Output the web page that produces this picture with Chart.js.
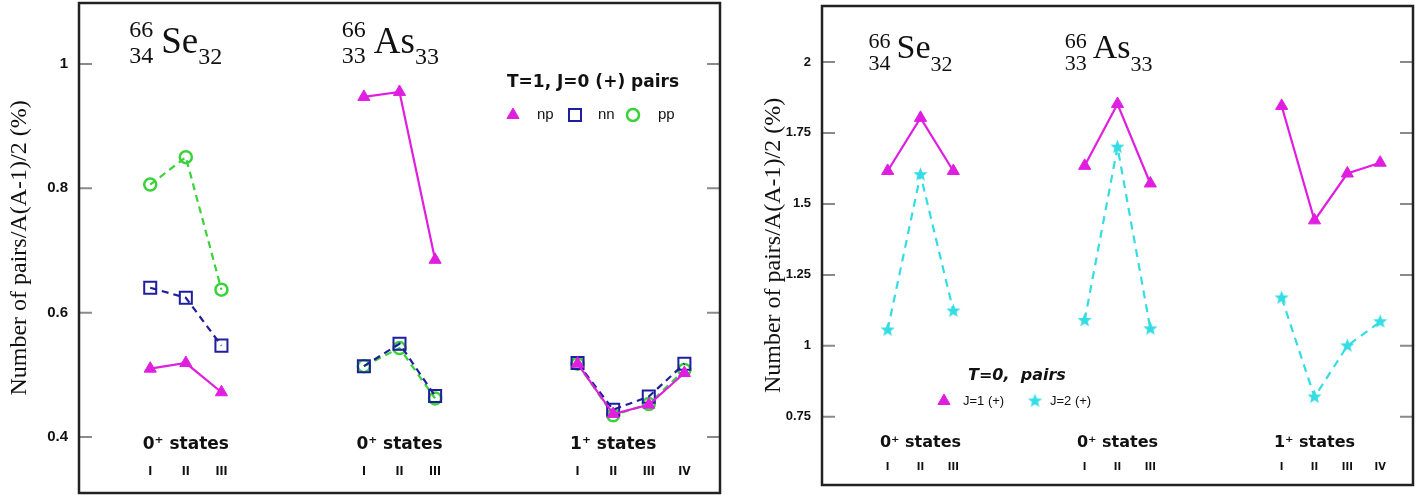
<!DOCTYPE html>
<html>
<head>
<meta charset="utf-8">
<script src="https://cdn.jsdelivr.net/npm/chart.js@4.4.0/dist/chart.umd.min.js"></script>
<style>
    body { margin: 0; background: #fff; width: 1428px; height: 495px; overflow: hidden; position: relative; }
    .panel { position: absolute; top: 0; height: 495px; }
    #leftPanel { left: 0; width: 745px; }
    #rightPanel { left: 745px; width: 683px; }
</style>
</head>
<body>
<div class="panel" id="leftPanel"><canvas id="t1Chart"></canvas></div>
<div class="panel" id="rightPanel"><canvas id="t0Chart"></canvas></div>
<script>
    // x positions of the states: 66Se 0+ | 66As 0+ | 66As 1+
    const xSe0 = [1, 2, 3];
    const xAs0 = [7, 8, 9];
    const xAs1 = [13, 14, 15, 16];
    const gapX = [5, 11];
    const roman3 = ['I', 'II', 'III'];
    const roman4 = ['I', 'II', 'III', 'IV'];

    // T=1, J=0 (+) pairs (left panel)
    const npSe0 = [0.510, 0.519, 0.472];
    const npAs0 = [0.947, 0.955, 0.685];
    const npAs1 = [0.518, 0.437, 0.452, 0.503];
    const nnSe0 = [0.640, 0.624, 0.547];
    const nnAs0 = [0.514, 0.550, 0.466];
    const nnAs1 = [0.519, 0.444, 0.465, 0.518];
    const ppSe0 = [0.806, 0.850, 0.637];
    const ppAs0 = [0.514, 0.543, 0.462];
    const ppAs1 = [0.518, 0.435, 0.453, 0.508];

    // T=0 pairs (right panel)
    const j1Se0 = [1.616, 1.803, 1.616];
    const j1As0 = [1.634, 1.852, 1.572];
    const j1As1 = [1.845, 1.442, 1.607, 1.645];
    const j2Se0 = [1.056, 1.603, 1.123];
    const j2As0 = [1.090, 1.700, 1.060];
    const j2As1 = [1.169, 0.820, 1.000, 1.085];

    // axis ticks
    const yTicksLeft = [0.4, 0.6, 0.8, 1];
    const yTickLabelsLeft = ['0.4', '0.6', '0.8', '1'];
    const yTicksRight = [0.75, 1, 1.25, 1.5, 1.75, 2];
    const yTickLabelsRight = ['0.75', '1', '1.25', '1.5', '1.75', '2'];

    const yTitle = 'Number of pairs/A(A-1)/2 (%)';

    const MAGENTA = '#e01ee0';
    const NAVY = '#1f1f9e';
    const GREEN = '#3ad23a';
    const CYAN = '#33dde3';

    // join the three groups, with a null point between them so the lines break
    function series(a, b, c) {
        return [
            ...xSe0.map((x, i) => ({ x, y: a[i] })),
            { x: gapX[0], y: null },
            ...xAs0.map((x, i) => ({ x, y: b[i] })),
            { x: gapX[1], y: null },
            ...xAs1.map((x, i) => ({ x, y: c[i] }))
        ];
    }

    function starImage(color, outer, inner) {
        const c = document.createElement('canvas');
        const s = Math.ceil(outer * 2 + 2);
        c.width = c.height = s;
        const g = c.getContext('2d');
        g.beginPath();
        for (let i = 0; i < 10; i++) {
            const r = i % 2 ? inner : outer;
            const ang = -Math.PI / 2 + i * Math.PI / 5;
            g.lineTo(s / 2 + r * Math.cos(ang), s / 2 + r * Math.sin(ang));
        }
        g.closePath();
        g.fillStyle = color;
        g.fill();
        return c;
    }

    // frame + inward tick marks on both sides
    const framePlugin = {
        id: 'frame',
        afterDraw(chart) {
            const { ctx, chartArea: a, scales: { y } } = chart;
            ctx.save();
            ctx.strokeStyle = '#8a8a8a';
            ctx.lineWidth = 2;
            y.ticks.forEach(t => {
                const py = y.getPixelForValue(t.value);
                ctx.beginPath();
                ctx.moveTo(a.left, py); ctx.lineTo(a.left + 13, py);
                ctx.moveTo(a.right, py); ctx.lineTo(a.right - 13, py);
                ctx.stroke();
            });
            ctx.strokeStyle = '#222';
            ctx.lineWidth = 2.5;
            ctx.strokeRect(a.left, a.top, a.right - a.left, a.bottom - a.top);
            ctx.restore();
        }
    };

    function drawMarker(ctx, ds, x, y) {
        ctx.save();
        ctx.fillStyle = ds.pointBackgroundColor;
        ctx.strokeStyle = ds.pointBorderColor;
        ctx.lineWidth = ds.pointBorderWidth;
        Chart.helpers.drawPoint(ctx, {
            pointStyle: ds.pointStyle,
            radius: ds.pointRadius,
            rotation: 0,
            borderWidth: ds.pointBorderWidth
        }, x, y);
        ctx.restore();
    }

    const textPlugin = {
        id: 'panelText',
        afterDraw(chart, args, o) {
            const { ctx, chartArea: a, scales: { x } } = chart;
            ctx.save();
            ctx.fillStyle = '#111';
            ctx.textBaseline = 'alphabetic';
            ctx.textAlign = 'left';

            // nucleus labels  A/Z Sym N
            o.nuclei.forEach(n => {
                const left = x.getPixelForValue(n.x);
                ctx.font = `${o.small}px "Liberation Serif"`;
                ctx.fillText(n.mass, left, a.top + o.massBase);
                ctx.fillText(n.z, left, a.top + o.zBase);
                const w = Math.max(ctx.measureText(n.mass).width, ctx.measureText(n.z).width);
                ctx.font = `${o.big}px "Liberation Serif"`;
                const symX = left + w + o.symGap;
                ctx.fillText(n.sym, symX, a.top + o.symBase);
                const sw = ctx.measureText(n.sym).width;
                ctx.font = `${o.small}px "Liberation Serif"`;
                ctx.fillText(n.n, symX + sw, a.top + o.zBase + 1);
            });

            // state group labels and roman numerals
            ctx.textAlign = 'center';
            ctx.textBaseline = 'middle';
            o.states.forEach(s => {
                ctx.font = `bold ${o.stateSize}px "DejaVu Sans"`;
                ctx.fillText(s.text, x.getPixelForValue(s.x), a.bottom - o.stateOff);
                ctx.font = `bold ${o.romanSize}px "DejaVu Sans Condensed", "DejaVu Sans"`;
                s.xs.forEach((xv, i) => ctx.fillText(s.roman[i], x.getPixelForValue(xv), a.bottom - o.romanOff));
            });

            // legend
            const L = o.legend;
            ctx.textAlign = 'left';
            ctx.font = L.titleFont;
            ctx.fillText(L.title, L.x, L.y);
            ctx.font = L.itemFont;
            L.items.forEach(it => {
                const ds = chart.data.datasets[it.ds];
                drawMarker(ctx, ds, L.x + it.mx, L.y + L.dy);
                ctx.fillStyle = '#111';
                ctx.fillText(it.label, L.x + it.tx, L.y + L.dy);
            });
            ctx.restore();
        }
    };

    function lineSet(data, color, style, radius, dash, fill, bw) {
        return {
            data,
            borderColor: color,
            borderWidth: 2.2,
            borderDash: dash,
            pointStyle: style,
            pointRadius: radius,
            pointHoverRadius: radius,
            pointBackgroundColor: fill,
            pointBorderColor: color,
            pointBorderWidth: bw,
            spanGaps: false,
            tension: 0
        };
    }

    function makeChart(id, datasets, cfg) {
        return new Chart(document.getElementById(id), {
            type: 'line',
            data: { datasets },
            options: {
                responsive: true,
                maintainAspectRatio: false,
                animation: false,
                layout: { padding: cfg.padding, autoPadding: false },
                plugins: {
                    legend: { display: false },
                    tooltip: { enabled: false },
                    panelText: cfg.text
                },
                scales: {
                    x: { type: 'linear', min: -1, max: 17, display: false },
                    y: {
                        type: 'linear',
                        min: cfg.yMin,
                        max: cfg.yMax,
                        afterFit: s => {
                            s.width = cfg.axisWidth;
                            s.paddingTop = 0;
                            s.paddingBottom = 0;
                        },
                        afterBuildTicks: s => { s.ticks = cfg.ticks.map(v => ({ value: v })); },
                        grid: { display: false, drawTicks: false },
                        border: { display: false },
                        ticks: {
                            padding: 11,
                            color: '#111',
                            font: { family: 'Liberation Sans', weight: 'bold', size: cfg.tickSize },
                            callback: v => cfg.tickLabels[cfg.ticks.indexOf(v)]
                        },
                        title: {
                            display: true,
                            text: yTitle,
                            color: '#111',
                            font: { family: 'Liberation Serif', size: 24 },
                            padding: { top: cfg.titlePad, bottom: 0 }
                        }
                    }
                }
            },
            plugins: [framePlugin, textPlugin]
        });
    }

    // left panel: T=1, J=0 pairs
    makeChart('t1Chart', [
        lineSet(series(npSe0, npAs0, npAs1), MAGENTA, 'triangle', 7, [], MAGENTA, 1),
        lineSet(series(nnSe0, nnAs0, nnAs1), NAVY, 'rect', 8.5, [7, 5], 'rgba(0,0,0,0)', 2),
        lineSet(series(ppSe0, ppAs0, ppAs1), GREEN, 'circle', 6, [7, 5], 'rgba(0,0,0,0)', 2.5)
    ], {
        padding: { top: 3, right: 25, bottom: 2, left: 0 },
        axisWidth: 79,
        yMin: 0.31, yMax: 1.098,
        ticks: yTicksLeft, tickLabels: yTickLabelsLeft, tickSize: 15,
        titlePad: 5,
        text: {
            small: 24, big: 37, massBase: 34, zBase: 60, symBase: 50, symGap: 8,
            nuclei: [
                { mass: '66', z: '34', sym: 'Se', n: '32', x: 0.41 },
                { mass: '66', z: '33', sym: 'As', n: '33', x: 6.38 }
            ],
            stateSize: 17, stateOff: 48, romanSize: 12, romanOff: 21,
            states: [
                { text: '0⁺ states', x: 2, xs: xSe0, roman: roman3 },
                { text: '0⁺ states', x: 8, xs: xAs0, roman: roman3 },
                { text: '1⁺ states', x: 14, xs: xAs1, roman: roman4 }
            ],
            legend: {
                title: 'T=1, J=0 (+) pairs', x: 507, y: 83, dy: 32,
                titleFont: 'bold 17px "DejaVu Sans"', itemFont: '15px "Liberation Sans"',
                items: [
                    { ds: 0, label: 'np', mx: 6, tx: 30 },
                    { ds: 1, label: 'nn', mx: 68, tx: 91 },
                    { ds: 2, label: 'pp', mx: 126, tx: 151 }
                ]
            }
        }
    });

    // right panel: T=0 pairs
    makeChart('t0Chart', [
        lineSet(series(j1Se0, j1As0, j1As1), MAGENTA, 'triangle', 7, [], MAGENTA, 1),
        lineSet(series(j2Se0, j2As0, j2As1), CYAN, starImage(CYAN, 7.5, 3.2), 7, [8, 6], CYAN, 0)
    ], {
        padding: { top: 6, right: 15, bottom: 10, left: 0 },
        axisWidth: 77,
        yMin: 0.51, yMax: 2.197,
        ticks: yTicksRight, tickLabels: yTickLabelsRight, tickSize: 13,
        titlePad: 14,
        text: {
            small: 22, big: 34, massBase: 42, zBase: 64, symBase: 52, symGap: 6,
            nuclei: [
                { mass: '66', z: '34', sym: 'Se', n: '32', x: 0.42 },
                { mass: '66', z: '33', sym: 'As', n: '33', x: 6.39 }
            ],
            stateSize: 16, stateOff: 42, romanSize: 11, romanOff: 18,
            states: [
                { text: '0⁺ states', x: 2, xs: xSe0, roman: roman3 },
                { text: '0⁺ states', x: 8, xs: xAs0, roman: roman3 },
                { text: '1⁺ states', x: 14, xs: xAs1, roman: roman4 }
            ],
            legend: {
                title: 'T=0,  pairs', x: 223, y: 376, dy: 25,
                titleFont: 'italic bold 16px "DejaVu Sans"', itemFont: '13px "Liberation Sans"',
                items: [
                    { ds: 0, label: 'J=1 (+)', mx: -24, tx: -5 },
                    { ds: 1, label: 'J=2 (+)', mx: 67, tx: 82 }
                ]
            }
        }
    });
</script>
</body>
</html>
